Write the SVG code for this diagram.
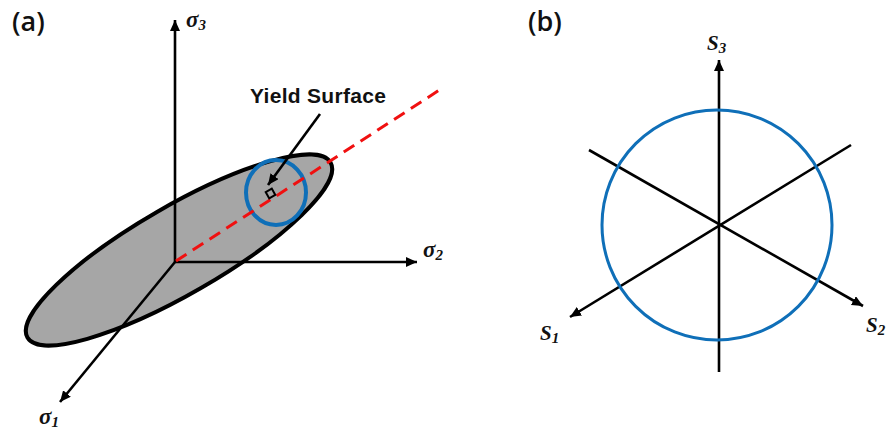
<svg xmlns="http://www.w3.org/2000/svg" width="886" height="430" viewBox="0 0 886 430">
<style>
.ax{stroke:#000;stroke-width:2.6;fill:none}
.blue{stroke:#0f6fb8;fill:none}
.lab{font-family:"Open Sans","Liberation Sans",sans-serif;fill:#111}
.sym{font-family:"Liberation Serif",serif;font-style:italic;font-weight:bold;fill:#111}
</style>
<defs>
<marker id="ah" markerUnits="userSpaceOnUse" markerWidth="12" markerHeight="12" refX="11" refY="5" orient="auto"><path d="M0 0L11 5L0 10Z" fill="#000"/></marker>
</defs>
<rect width="886" height="430" fill="#fff"/>
<g id="yield-plane"><ellipse cx="179" cy="250" rx="175" ry="44" transform="rotate(-30 179 250)" fill="#a6a6a6" stroke="#000" stroke-width="4"/></g>
<g id="yield-circle-a"><ellipse cx="276" cy="192.500" rx="30" ry="32.500" class="blue" stroke-width="4"/></g>
<g id="connectors">
<path class="ax" d="M175 262V20" marker-end="url(#ah)"/>
<path class="ax" d="M175 262H417" marker-end="url(#ah)"/>
<path class="ax" d="M175 262L60 402" marker-end="url(#ah)"/>
<path d="M176 261L441 89" stroke="#f01010" stroke-width="3" stroke-dasharray="12.500 7.500" fill="none"/>
<path class="ax" d="M320 114L268 185" marker-end="url(#ah)"/>
<path class="ax" d="M719 372V60" marker-end="url(#ah)"/>
<path class="ax" d="M589 150L863 306" marker-end="url(#ah)"/>
<path class="ax" d="M851 145L570 317" marker-end="url(#ah)"/>
</g>
<g id="point"><rect x="267" y="190" width="7" height="7" transform="rotate(-30 270.500 193.500)" fill="none" stroke="#000" stroke-width="2"/></g>
<g id="yield-circle-b"><circle cx="717" cy="225" r="115" class="blue" stroke-width="3"/></g>
<g id="labels">
<text x="12" y="31" class="lab" font-size="27" font-weight="600">(a)</text>
<text x="528" y="31" class="lab" font-size="27" font-weight="600">(b)</text>
<text x="250" y="103" font-family="Liberation Sans, sans-serif" fill="#111" font-size="21" font-weight="700" letter-spacing="0.300">Yield Surface</text>
<text x="186" y="27" class="sym" font-size="23">σ<tspan font-size="15" dy="3">3</tspan></text>
<text x="423" y="257" class="sym" font-size="23">σ<tspan font-size="15" dy="3">2</tspan></text>
<text x="39" y="424" class="sym" font-size="23">σ<tspan font-size="15" dy="3">1</tspan></text>
<text x="707" y="50" class="sym" font-size="21">S<tspan font-size="15" dy="3">3</tspan></text>
<text x="540" y="340" class="sym" font-size="21">S<tspan font-size="15" dy="3">1</tspan></text>
<text x="866" y="332" class="sym" font-size="21">S<tspan font-size="15" dy="3">2</tspan></text>
</g>
</svg>
